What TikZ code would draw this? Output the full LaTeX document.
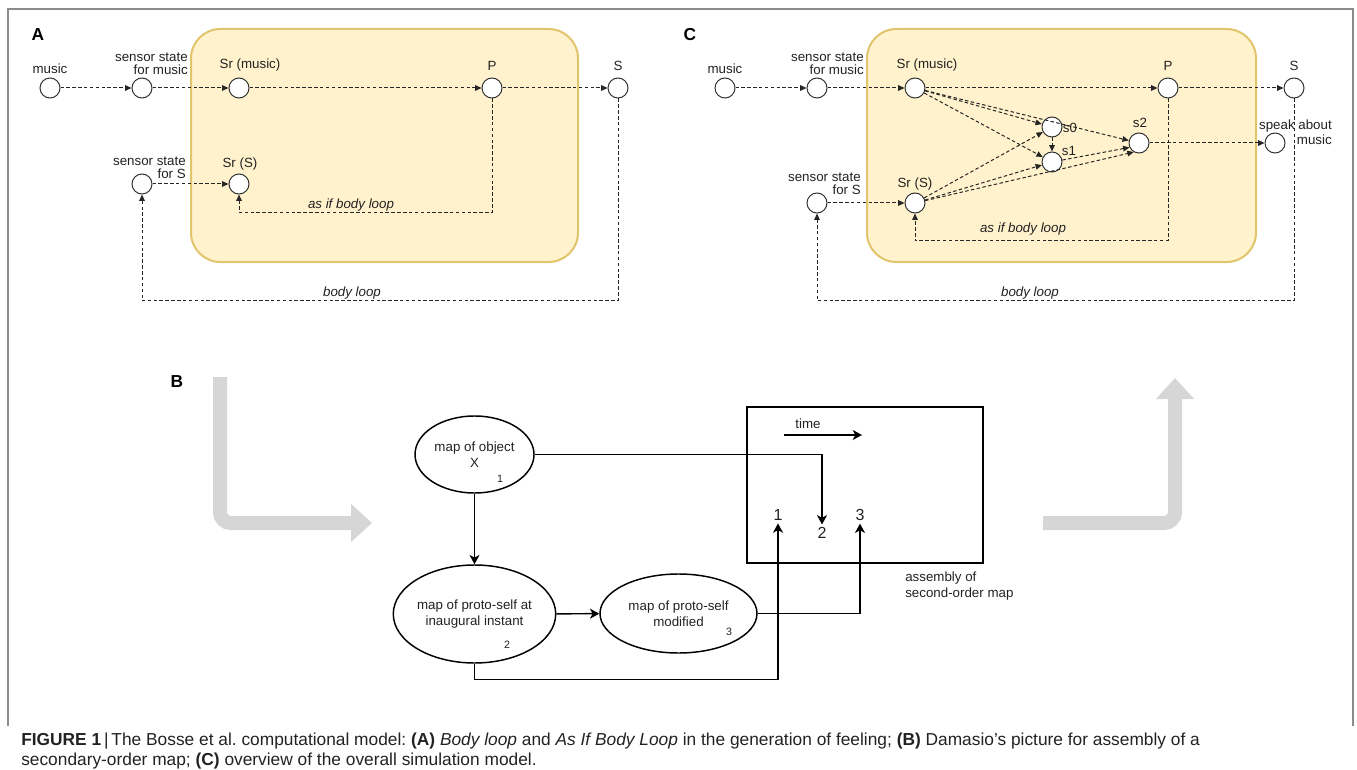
\documentclass[tikz,border=0pt]{standalone}
\usepackage{fontspec}
\setmainfont{Liberation Sans}
\usetikzlibrary{arrows.meta,shapes.geometric,calc}
\definecolor{boxfill}{HTML}{FFF2CC}
\definecolor{boxedge}{HTML}{E2C46C}
\definecolor{txt}{HTML}{222222}
\definecolor{bigarrow}{HTML}{D6D6D6}
\definecolor{framec}{HTML}{8C8C8C}
\frenchspacing
\begin{document}
\begin{tikzpicture}[x=0.75pt,y=-0.75pt,
  circ/.style={circle, draw=black!80, fill=white, line width=0.75pt, minimum size=15pt, inner sep=0},
  lbl/.style={inner sep=0, font=\fontsize{10}{9.5}\selectfont, text=txt, align=right},
  loopl/.style={inner sep=0, font=\fontsize{10}{12}\selectfont\itshape, text=txt},
  panel/.style={inner sep=0, font=\fontsize{13}{15}\selectfont\bfseries, text=black},
  dflow/.style={draw=black!85, line width=0.75pt, dash pattern=on 2.6pt off 1.8pt, -{Triangle[length=4.8pt,width=4.2pt]}},
  ybox/.style={draw=boxedge, fill=boxfill, line width=1.5pt, rounded corners=22pt, inner sep=0},
  ell/.style={ellipse, draw=black, line width=1.1pt, inner sep=0, align=center, font=\fontsize{10}{12}\selectfont, text=txt},
  small/.style={inner sep=0, font=\fontsize{8}{9}\selectfont, text=txt},
  bignum/.style={inner sep=2pt, font=\fontsize{12}{13}\selectfont, text=txt},
  sflow/.style={draw=black, line width=1.1pt, -{Stealth[length=7pt,width=7.5pt,inset=2pt]}},
  garrow/.style={draw=bigarrow, line width=10.5pt, rounded corners=8pt, -{Triangle[length=15.75pt,width=27.75pt]}}
]
\useasboundingbox (0,0) rectangle (1357,770);
\draw[framec, line width=0.9pt] (8,726) -- (8,9) -- (1353,9) -- (1353,726);

% ================= Panel A =================
\node[panel] (labA) at (38,35) {A};
\node[ybox, minimum width=290.25pt, minimum height=174.75pt] (aBox) at (384.5,145.5) {};
\node[circ] (aM) at (50,88) {};
\node[circ] (aSM) at (142,88) {};
\node[circ] (aSrM) at (239,88) {};
\node[circ] (aP) at (492,88) {};
\node[circ] (aS) at (618,88) {};
\node[circ] (aSS) at (142,184) {};
\node[circ] (aSrS) at (239,184) {};
\node[lbl] (aMl) at (50,69) {music};
\node[lbl, anchor=east] (aSMl) at (188,64) {sensor state\\for music};
\node[lbl] (aSrMl) at (250,65) {Sr (music)};
\node[lbl] (aPl) at (492,66) {P};
\node[lbl] (aSl) at (618,66) {S};
\node[lbl, anchor=east] (aSSl) at (186,168) {sensor state\\for S};
\node[lbl] (aSrSl) at (240,164) {Sr (S)};
\draw[dflow] (aM) -- (aSM);
\draw[dflow] (aSM) -- (aSrM);
\draw[dflow] (aSrM) -- (aP);
\draw[dflow] (aP) -- (aS);
\draw[dflow] (aSS) -- (aSrS);
\draw[dflow] (aP.south) -- ++(0,114) -| (aSrS.south);
\draw[dflow] (aS.south) -- ++(0,202) -| (aSS.south);
\node[loopl] (aAsif) at (351,205) {as if body loop};
\node[loopl] (aBody) at (352,293) {body loop};

% ================= Panel C =================
\node[panel] (labC) at (690,35) {C};
\node[ybox, minimum width=291.75pt, minimum height=174.75pt] (cBox) at (1061.5,145.5) {};
\node[circ] (cM) at (725,88) {};
\node[circ] (cSM) at (817,88) {};
\node[circ] (cSrM) at (915,88) {};
\node[circ] (cP) at (1168,88) {};
\node[circ] (cS) at (1294,88) {};
\node[circ] (cSS) at (817,203) {};
\node[circ] (cSrS) at (915,203) {};
\node[circ] (cs0) at (1052,127) {};
\node[circ] (cs1) at (1052,162) {};
\node[circ] (cs2) at (1139,143) {};
\node[circ] (cSp) at (1275,143) {};
\node[lbl] (cMl) at (725,69) {music};
\node[lbl, anchor=east] (cSMl) at (864,64) {sensor state\\for music};
\node[lbl] (cSrMl) at (927,65) {Sr (music)};
\node[lbl] (cPl) at (1168,66) {P};
\node[lbl] (cSl) at (1294,66) {S};
\node[lbl, anchor=east] (cSSl) at (861,184) {sensor state\\for S};
\node[lbl] (cSrSl) at (915,184) {Sr (S)};
\node[lbl] (cs0l) at (1070,128) {s0};
\node[lbl] (cs1l) at (1069,151) {s1};
\node[lbl] (cs2l) at (1140,123) {s2};
\node[inner sep=0, font=\fontsize{10}{11}\selectfont, text=txt, align=right, anchor=east] (cSpl) at (1332,132.5) {speak about\\music};
\draw[dflow] (cM) -- (cSM);
\draw[dflow] (cSM) -- (cSrM);
\draw[dflow] (cSrM) -- (cP);
\draw[dflow] (cP) -- (cS);
\draw[dflow] (cSS) -- (cSrS);
\draw[dflow] (cSrM) -- (cs0);
\draw[dflow] (cSrM) -- (cs1);
\draw[dflow] (cSrM) -- (cs2);
\draw[dflow] (cSrS) -- (cs0);
\draw[dflow] (cSrS) -- (cs1);
\draw[dflow] (cSrS) -- (cs2.240);
\draw[dflow] (cs1) -- (cs2.205);
\draw[dflow] (cs0) -- (cs1);
\draw[dflow] (cs2) -- (cSp);
\draw[dflow] (cP.south) -- ++(0,142) -| (cSrS.south);
\draw[dflow] (cS.south) -- ++(0,202) -| (cSS.south);
\node[loopl] (cAsif) at (1023,229) {as if body loop};
\node[loopl] (cBody) at (1030,293) {body loop};

% ================= Panel B =================
\node[panel] (labB) at (177,382) {B};
\coordinate (gA0) at (220,377);
\coordinate (gA1) at (220,523);
\coordinate (gA2) at (372,523);
\draw[garrow] (gA0) -- (gA1) -- (gA2);
\coordinate (gB0) at (1043,523);
\coordinate (gB1) at (1175,523);
\coordinate (gB2) at (1175,378);
\draw[garrow] (gB0) -- (gB1) -- (gB2);

\node[ell, minimum width=89.25pt, minimum height=57.75pt] (bX) at (474.5,454.5) {map of object\\X};
\node[small] (bXn) at (500,479) {1};
\node[ell, minimum width=110.25pt, minimum height=73.5pt] (bI) at (474.5,614) {map of proto-self at\\inaugural instant};
\node[small] (bIn) at (507,645) {2};
\node[ell, minimum width=117.75pt, minimum height=59.25pt] (bM) at (678.5,613.5) {map of proto-self\\modified};
\node[small] (bMn) at (729,632) {3};
\node[draw=black, line width=1.1pt, minimum width=177pt, minimum height=117pt, inner sep=0] (asm) at (865,485) {};
\node[inner sep=0, font=\fontsize{10}{12}\selectfont, text=txt] (timel) at (808,424) {time};
\coordinate (t0) at (784,435);
\coordinate (t1) at (862,435);
\draw[sflow] (t0) -- (t1);
\node[bignum] (r1) at (778,515) {1};
\node[bignum] (r2) at (822,533) {2};
\node[bignum] (r3) at (860,515) {3};
\node[inner sep=0, font=\fontsize{10}{12}\selectfont, text=txt, align=left, anchor=west] (asml) at (905,586) {assembly of\\second-order map};
\draw[sflow] (bX.east) -| (r2.north);
\draw[sflow] (bX) -- (bI);
\draw[sflow] (bI) -- (bM);
\draw[sflow] (bI.south) -- ++(0,16) -| (r1.south);
\draw[sflow] (bM.east) -| (r3.south);

% ================= Caption =================
\node[anchor=base west, inner sep=0, align=left, font=\fontsize{13}{15}\selectfont, text=txt] (cap) at (21,765)
{\textbf{FIGURE 1}\,|\,The Bosse et al. computational model: \textbf{(A)} \textit{Body loop} and \textit{As If Body Loop} in the generation of feeling; \textbf{(B)} Damasio's picture for assembly of a\\
secondary-order map; \textbf{(C)} overview of the overall simulation model.};
\end{tikzpicture}
\end{document}
